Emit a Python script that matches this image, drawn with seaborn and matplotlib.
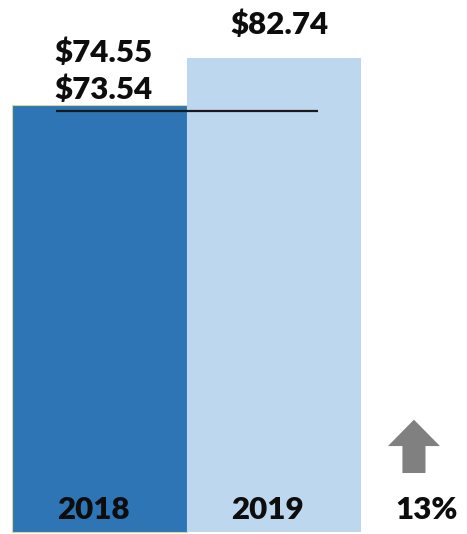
import matplotlib
matplotlib.use("Agg")
import matplotlib.pyplot as plt
from matplotlib.patches import FancyArrow
from matplotlib.transforms import offset_copy
import seaborn as sns
import pandas as pd

# Average price per year
years = ["2018", "2019"]
prices = [74.55, 82.74]
prior_price = 73.54          # reference level drawn as a line across both bars
price_labels = ["$74.55", "$82.74"]
prior_label = "$73.54"
change_label = "13%"
bar_colors = ["#2E75B6", "#BDD7EE"]

sns.set_theme(style="white")
plt.rcParams["font.family"] = ["Lato", "DejaVu Sans"]

df = pd.DataFrame({"year": years, "price": prices})

fig = plt.figure(figsize=(4.67, 5.34), dpi=100)
ax = fig.add_axes([0, 0, 1, 1])

sns.barplot(data=df, x="year", y="price", hue="year", palette=bar_colors,
            width=1.0, legend=False, ax=ax, saturation=1)

for patch, year in zip(ax.patches, years):
    if year == "2018":
        patch.set_edgecolor("#D6D89A")
        patch.set_linewidth(0.8)
    else:
        patch.set_edgecolor("none")

ax.set_xlim(-0.570, 2.106)
ax.set_ylim(-0.35, 92.86)
ax.axis("off")

# prior-year reference line
ax.hlines(prior_price, -0.25, 1.25, color="#1a1a1a", lw=1.6, zorder=5)

txt = dict(fontsize=22.5, fontweight="heavy", color="#0d0d0d",
           ha="center", va="center")


def label_above(x, y, s, dy_px):
    tr = offset_copy(ax.transData, fig=fig, x=0, y=dy_px, units="dots")
    ax.text(x, y, s, transform=tr, **txt)


# value labels above the bars
label_above(1.03, prices[1], price_labels[1], 33)
label_above(0.025, prices[0], price_labels[0], 52)
label_above(0.025, prior_price, prior_label, 21)

# year names inside the bars
for i, year in enumerate(years):
    ax.text(i - 0.035, 3.9, year, **txt)

# change indicator
ax.add_patch(FancyArrow(1.802, 10.3, 0, 9.3, width=0.132, head_width=0.298,
                        head_length=4.6, length_includes_head=True,
                        color="#808080", lw=0))
ax.text(1.875, 3.9, change_label, **txt)

fig.savefig("out.png", dpi=100)
